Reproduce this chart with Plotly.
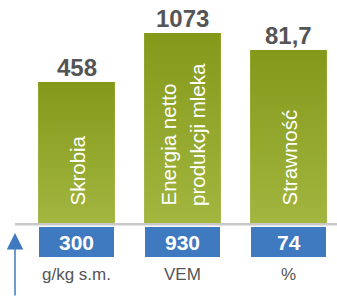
import plotly.graph_objects as go

# ---- data ----
categories = ["Skrobia", "Energia netto<br>produkcji mleka", "Strawność"]
top_values = [458, 1073, 81.7]
bottom_values = [300, 930, 74]
units = ["g/kg s.m.", "VEM", "%"]
bar_heights = [141, 190, 173]   # relative visual heights of the green bars

# ---- styles ----
FONT = "Liberation Sans, Arial, Helvetica, sans-serif"
GREEN_TOP = "#84991a"
GREEN_BOTTOM = "#a2b640"
BLUE = "#3f79bf"
GREY_TXT = "#555555"
BAR_W = 0.725

def fmt(v):
    s = f"{v:g}"
    return s.replace(".", ",")

fig = go.Figure()

xs = list(range(len(categories)))

# green gradient bars
for i, h in zip(xs, bar_heights):
    x0, x1 = i - BAR_W / 2, i + BAR_W / 2
    fig.add_trace(go.Scatter(
        x=[x0, x1, x1, x0, x0], y=[0, 0, h, h, 0],
        mode="none", fill="toself",
        fillgradient=dict(type="vertical", start=0, stop=h,
                          colorscale=[[0, GREEN_BOTTOM], [1, GREEN_TOP]]),
        hoverinfo="skip", showlegend=False))

# blue boxes
fig.add_trace(go.Bar(
    x=xs, y=[-30] * len(xs), base=-4, width=0.715,
    marker=dict(color=BLUE, line=dict(width=0)),
    hoverinfo="skip", showlegend=False))

annotations = []
for i, (h, tv, bv, u, cat) in enumerate(zip(bar_heights, top_values, bottom_values, units, categories)):
    annotations.append(dict(x=i, y=h, text=fmt(tv), showarrow=False,
                            xanchor="center", yanchor="bottom", yshift=-1,
                            font=dict(family=FONT, size=24, color=GREY_TXT, weight="bold")))
    annotations.append(dict(x=i, y=-19, text=fmt(bv), showarrow=False,
                            xanchor="center", yanchor="middle",
                            font=dict(family=FONT, size=21, color="white", weight="bold")))
    annotations.append(dict(x=i, y=-51, text=u, showarrow=False,
                            xanchor="center", yanchor="middle",
                            font=dict(family=FONT, size=17, color=GREY_TXT)))
    lines = cat.split("<br>")
    n = len(lines)
    for k, line in enumerate(lines):
        shift = (k - (n - 1) / 2) * 30
        annotations.append(dict(x=i, y=15, text=line, showarrow=False, textangle=-90,
                                xanchor="center", yanchor="bottom", xshift=shift,
                                font=dict(family=FONT, size=20.5, color="white")))

# arrow
annotations.append(dict(x=15 / 337, xref="paper", y=-10, yref="y", text="",
                        showarrow=True, ax=0, ay=66, arrowhead=2, arrowsize=2.2,
                        arrowwidth=1.5, arrowcolor=BLUE, standoff=0))

fig.update_layout(
    width=337, height=297,
    margin=dict(l=0, r=0, t=0, b=0),
    paper_bgcolor="white", plot_bgcolor="white",
    xaxis=dict(range=[-0.7217, 2.4575], visible=False, fixedrange=True),
    yaxis=dict(range=[-74, 223], visible=False, fixedrange=True),
    bargap=0, showlegend=False,
    annotations=annotations,
    shapes=[dict(type="line", xref="paper", x0=15 / 337, x1=1, yref="y", y0=-1.3, y1=-1.3,
                 line=dict(color="#c8c8c8", width=2.5), layer="above")],
)

fig.write_html("out.html", config={"displayModeBar": False},
               post_script="document.body.style.margin='0';document.body.style.overflow='hidden';")
